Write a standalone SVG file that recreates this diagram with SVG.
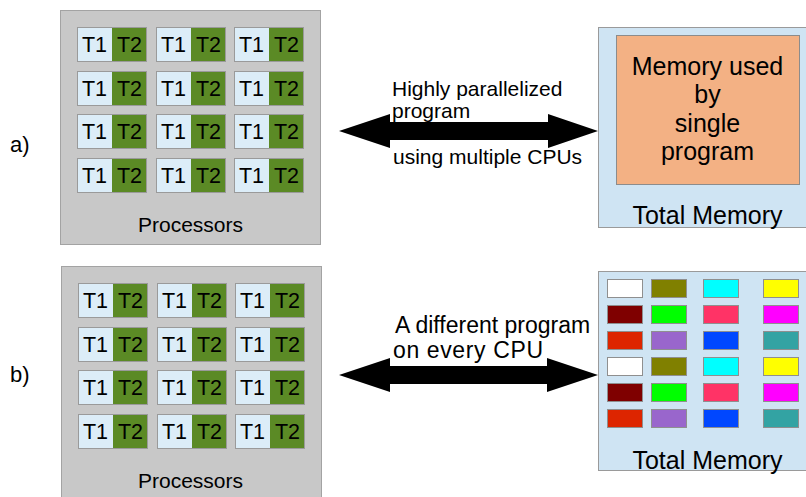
<svg xmlns="http://www.w3.org/2000/svg" width="806" height="497" viewBox="0 0 806 497">
<style>
text{font-family:"Liberation Sans",Arial,sans-serif;fill:#000}
.proc{fill:#c8c8c8;stroke:#a3a3a3;stroke-width:1}
.t1{fill:#dcedf8}
.t2{fill:#5b8a25}
.cb{fill:none;stroke:#9a9a9a;stroke-width:1}
.ct{font-size:21.5px;text-anchor:middle}
.plabel{font-size:21px;text-anchor:middle}
.mem{fill:#cfe4f3;stroke:#9a9a9a;stroke-width:1}
.used{fill:#f3b184;stroke:#8c8c8c;stroke-width:1}
.mt{font-size:25px;text-anchor:middle}
.blk{stroke:#8f8f8f;stroke-width:1}
.arrow{fill:#000}
.al{font-size:21px}
.al2{font-size:23px}
.side{font-size:22px}
</style>
<defs>
<g id="cell">
<rect class="t1" x="0" y="0" width="35" height="35"/>
<rect class="t2" x="35" y="0" width="35" height="35"/>
<rect class="cb" x="0.5" y="0.5" width="69" height="34"/>
</g>
</defs>

<g id="label-a"><text class="side" x="10" y="152">a)</text></g>
<g id="label-b"><text class="side" x="10" y="382">b)</text></g>

<g id="processors-a">
<rect class="proc" x="60.5" y="10.5" width="260" height="234"/>
<g transform="translate(77,27)"><use href="#cell"/><text class="ct" x="17.5" y="25">T1</text><text class="ct" x="52.5" y="25">T2</text></g>
<g transform="translate(156,27)"><use href="#cell"/><text class="ct" x="17.5" y="25">T1</text><text class="ct" x="52.5" y="25">T2</text></g>
<g transform="translate(234,27)"><use href="#cell"/><text class="ct" x="17.5" y="25">T1</text><text class="ct" x="52.5" y="25">T2</text></g>
<g transform="translate(77,71)"><use href="#cell"/><text class="ct" x="17.5" y="25">T1</text><text class="ct" x="52.5" y="25">T2</text></g>
<g transform="translate(156,71)"><use href="#cell"/><text class="ct" x="17.5" y="25">T1</text><text class="ct" x="52.5" y="25">T2</text></g>
<g transform="translate(234,71)"><use href="#cell"/><text class="ct" x="17.5" y="25">T1</text><text class="ct" x="52.5" y="25">T2</text></g>
<g transform="translate(77,114)"><use href="#cell"/><text class="ct" x="17.5" y="25">T1</text><text class="ct" x="52.5" y="25">T2</text></g>
<g transform="translate(156,114)"><use href="#cell"/><text class="ct" x="17.5" y="25">T1</text><text class="ct" x="52.5" y="25">T2</text></g>
<g transform="translate(234,114)"><use href="#cell"/><text class="ct" x="17.5" y="25">T1</text><text class="ct" x="52.5" y="25">T2</text></g>
<g transform="translate(77,158)"><use href="#cell"/><text class="ct" x="17.5" y="25">T1</text><text class="ct" x="52.5" y="25">T2</text></g>
<g transform="translate(156,158)"><use href="#cell"/><text class="ct" x="17.5" y="25">T1</text><text class="ct" x="52.5" y="25">T2</text></g>
<g transform="translate(234,158)"><use href="#cell"/><text class="ct" x="17.5" y="25">T1</text><text class="ct" x="52.5" y="25">T2</text></g>
<text class="plabel" x="190.5" y="232">Processors</text>
</g>

<g id="processors-b">
<rect class="proc" x="61.5" y="266.5" width="260" height="240"/>
<g transform="translate(78,283)"><use href="#cell"/><text class="ct" x="17.5" y="25">T1</text><text class="ct" x="52.5" y="25">T2</text></g>
<g transform="translate(157,283)"><use href="#cell"/><text class="ct" x="17.5" y="25">T1</text><text class="ct" x="52.5" y="25">T2</text></g>
<g transform="translate(235,283)"><use href="#cell"/><text class="ct" x="17.5" y="25">T1</text><text class="ct" x="52.5" y="25">T2</text></g>
<g transform="translate(78,327)"><use href="#cell"/><text class="ct" x="17.5" y="25">T1</text><text class="ct" x="52.5" y="25">T2</text></g>
<g transform="translate(157,327)"><use href="#cell"/><text class="ct" x="17.5" y="25">T1</text><text class="ct" x="52.5" y="25">T2</text></g>
<g transform="translate(235,327)"><use href="#cell"/><text class="ct" x="17.5" y="25">T1</text><text class="ct" x="52.5" y="25">T2</text></g>
<g transform="translate(78,370)"><use href="#cell"/><text class="ct" x="17.5" y="25">T1</text><text class="ct" x="52.5" y="25">T2</text></g>
<g transform="translate(157,370)"><use href="#cell"/><text class="ct" x="17.5" y="25">T1</text><text class="ct" x="52.5" y="25">T2</text></g>
<g transform="translate(235,370)"><use href="#cell"/><text class="ct" x="17.5" y="25">T1</text><text class="ct" x="52.5" y="25">T2</text></g>
<g transform="translate(78,414)"><use href="#cell"/><text class="ct" x="17.5" y="25">T1</text><text class="ct" x="52.5" y="25">T2</text></g>
<g transform="translate(157,414)"><use href="#cell"/><text class="ct" x="17.5" y="25">T1</text><text class="ct" x="52.5" y="25">T2</text></g>
<g transform="translate(235,414)"><use href="#cell"/><text class="ct" x="17.5" y="25">T1</text><text class="ct" x="52.5" y="25">T2</text></g>
<text class="plabel" x="190.5" y="488">Processors</text>
</g>

<g id="memory-a">
<rect class="mem" x="598.5" y="27.5" width="220" height="200"/>
<rect class="used" x="616.5" y="35.5" width="183" height="149"/>
<text class="mt" x="707.5" y="75">Memory used</text>
<text class="mt" x="707.5" y="103">by</text>
<text class="mt" x="707.5" y="132">single</text>
<text class="mt" x="707.5" y="160">program</text>
<text class="mt" x="707.5" y="224">Total Memory</text>
</g>

<g id="memory-b">
<rect class="mem" x="598.5" y="271.5" width="220" height="199"/>
<rect class="blk" fill="#ffffff" x="607.5" y="279.5" width="35" height="18"/>
<rect class="blk" fill="#808000" x="651.5" y="279.5" width="35" height="18"/>
<rect class="blk" fill="#00ffff" x="703.5" y="279.5" width="35" height="18"/>
<rect class="blk" fill="#ffff00" x="763.5" y="279.5" width="35" height="18"/>
<rect class="blk" fill="#7f0000" x="607.5" y="305.5" width="35" height="18"/>
<rect class="blk" fill="#00ff00" x="651.5" y="305.5" width="35" height="18"/>
<rect class="blk" fill="#ff3366" x="703.5" y="305.5" width="35" height="18"/>
<rect class="blk" fill="#ff00ff" x="763.5" y="305.5" width="35" height="18"/>
<rect class="blk" fill="#dd2500" x="607.5" y="331.5" width="35" height="18"/>
<rect class="blk" fill="#9966cc" x="651.5" y="331.5" width="35" height="18"/>
<rect class="blk" fill="#0047ff" x="703.5" y="331.5" width="35" height="18"/>
<rect class="blk" fill="#33a3a3" x="763.5" y="331.5" width="35" height="18"/>
<rect class="blk" fill="#ffffff" x="607.5" y="357.5" width="35" height="18"/>
<rect class="blk" fill="#808000" x="651.5" y="357.5" width="35" height="18"/>
<rect class="blk" fill="#00ffff" x="703.5" y="357.5" width="35" height="18"/>
<rect class="blk" fill="#ffff00" x="763.5" y="357.5" width="35" height="18"/>
<rect class="blk" fill="#7f0000" x="607.5" y="383.5" width="35" height="18"/>
<rect class="blk" fill="#00ff00" x="651.5" y="383.5" width="35" height="18"/>
<rect class="blk" fill="#ff3366" x="703.5" y="383.5" width="35" height="18"/>
<rect class="blk" fill="#ff00ff" x="763.5" y="383.5" width="35" height="18"/>
<rect class="blk" fill="#dd2500" x="607.5" y="409.5" width="35" height="18"/>
<rect class="blk" fill="#9966cc" x="651.5" y="409.5" width="35" height="18"/>
<rect class="blk" fill="#0047ff" x="703.5" y="409.5" width="35" height="18"/>
<rect class="blk" fill="#33a3a3" x="763.5" y="409.5" width="35" height="18"/>
<text class="mt" x="707.5" y="469">Total Memory</text>
</g>

<g id="connectors">
<polygon class="arrow" points="339,131 390,114 390,122 548,122 548,114 598,131 548,148 548,140 390,140 390,148"/>
<polygon class="arrow" points="339,375 390,358 390,366 547,366 547,358 598,375 547,392 547,384 390,384 390,392"/>
<text class="al" x="392" y="96">Highly parallelized</text>
<text class="al" x="392" y="118">program</text>
<text class="al" x="393" y="164">using multiple CPUs</text>
<text class="al2" x="395" y="333">A different program</text>
<text class="al2" x="393" y="358" textLength="150">on every CPU</text>
</g>
</svg>
